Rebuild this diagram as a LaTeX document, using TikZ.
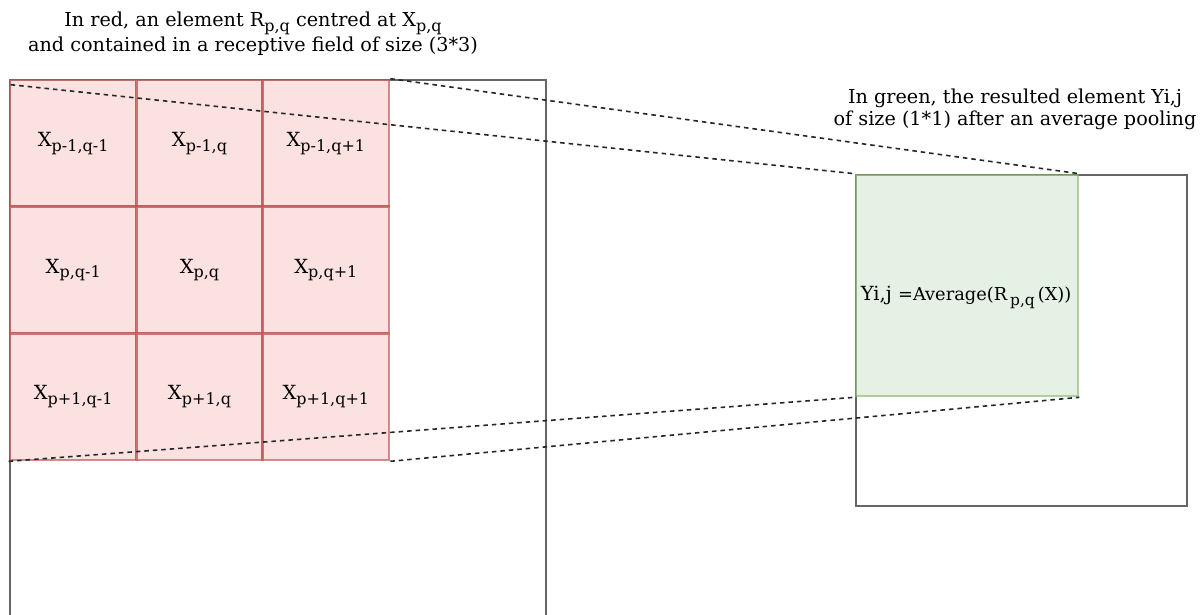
\documentclass[tikz,border=0pt]{standalone}
\usepackage{fontspec}
\setmainfont{DejaVu Serif}
\definecolor{redline}{HTML}{B85450}
\definecolor{redfill}{HTML}{F8CECC}
\definecolor{greenline}{HTML}{82B366}
\definecolor{greenfill}{HTML}{D5E8D4}
\definecolor{frame}{HTML}{666666}
% a letter followed by a large, lowered index
\newcommand{\idx}[2]{#1\raisebox{-4.5pt}{\fontsize{16}{18}\selectfont #2}}
\tikzset{
  cell/.style={draw=redline, draw opacity=0.65, fill=redfill, fill opacity=0.6,
    text opacity=1, line width=2.6pt,
    minimum width=126.33pt, minimum height=126.67pt, inner sep=0pt,
    font=\fontsize{19.5}{22}\selectfont},
  pooled/.style={draw=greenline, draw opacity=0.6, fill=greenfill, fill opacity=0.6,
    line width=2.6pt, minimum width=222pt, minimum height=221pt, inner sep=0pt},
  framebox/.style={draw=frame, line width=2.6pt},
  proj/.style={draw=black!85, line width=1.6pt, dash pattern=on 4.5pt off 4pt},
  caption/.style={align=center, font=\fontsize{19.2}{22}\selectfont, inner sep=0pt}
}
\begin{document}
\begin{tikzpicture}[x=1pt,y=-1pt]
\useasboundingbox (0,0) rectangle (1203,615);

% input feature map (runs off the bottom edge)
\draw[framebox] (10,616) -- (10,80) -- (546,80) -- (546,616);

% output feature map
\draw[framebox] (856,175) rectangle (1187,506);

% 3x3 receptive field
\node[cell] (c11) at (73.17,143.33) {\idx{X}{p-1,q-1}};
\node[cell] (c12) at (199.5,143.33) {\idx{X}{p-1,q}};
\node[cell] (c13) at (325.83,143.33) {\idx{X}{p-1,q+1}};
\node[cell] (c21) at (73.17,270) {\idx{X}{p,q-1}};
\node[cell] (c22) at (199.5,270) {\idx{X}{p,q}};
\node[cell] (c23) at (325.83,270) {\idx{X}{p,q+1}};
\node[cell] (c31) at (73.17,396.67) {\idx{X}{p+1,q-1}};
\node[cell] (c32) at (199.5,396.67) {\idx{X}{p+1,q}};
\node[cell] (c33) at (325.83,396.67) {\idx{X}{p+1,q+1}};

% pooled element
\node[pooled] (g) at (967,285.5) {};
\node[anchor=west, inner sep=0pt] (formula) at ([shift={(6pt,-12pt)}]g.west)
  {{\fontsize{19.5}{21}\selectfont Yi,j }{\fontsize{17.8}{19}\selectfont =Average(R\,\raisebox{-4.5pt}{\fontsize{15.5}{17}\selectfont p,q}\,(X))}};

% projection lines from the receptive field to the pooled element
\draw[proj] ([shift={(2pt,-6pt)}]c11.north west) -- (g.north west);
\draw[proj] (c13.north east) -- (g.north east);
\draw[proj] (c31.south west) -- (g.south west);
\draw[proj] (c33.south east) -- (g.south east);

% captions
\node[caption, font=\fontsize{19.2}{25}\selectfont] (capL) at (253,34)
  {In red, an element \idx{R}{p,q} centred at \idx{X}{p,q}\\
   and contained in a receptive field of size (3*3)};
\node[caption] (capR) at (1015,109)
  {In green, the resulted element Yi,j\\ of size (1*1) after an average pooling};
\end{tikzpicture}
\end{document}
